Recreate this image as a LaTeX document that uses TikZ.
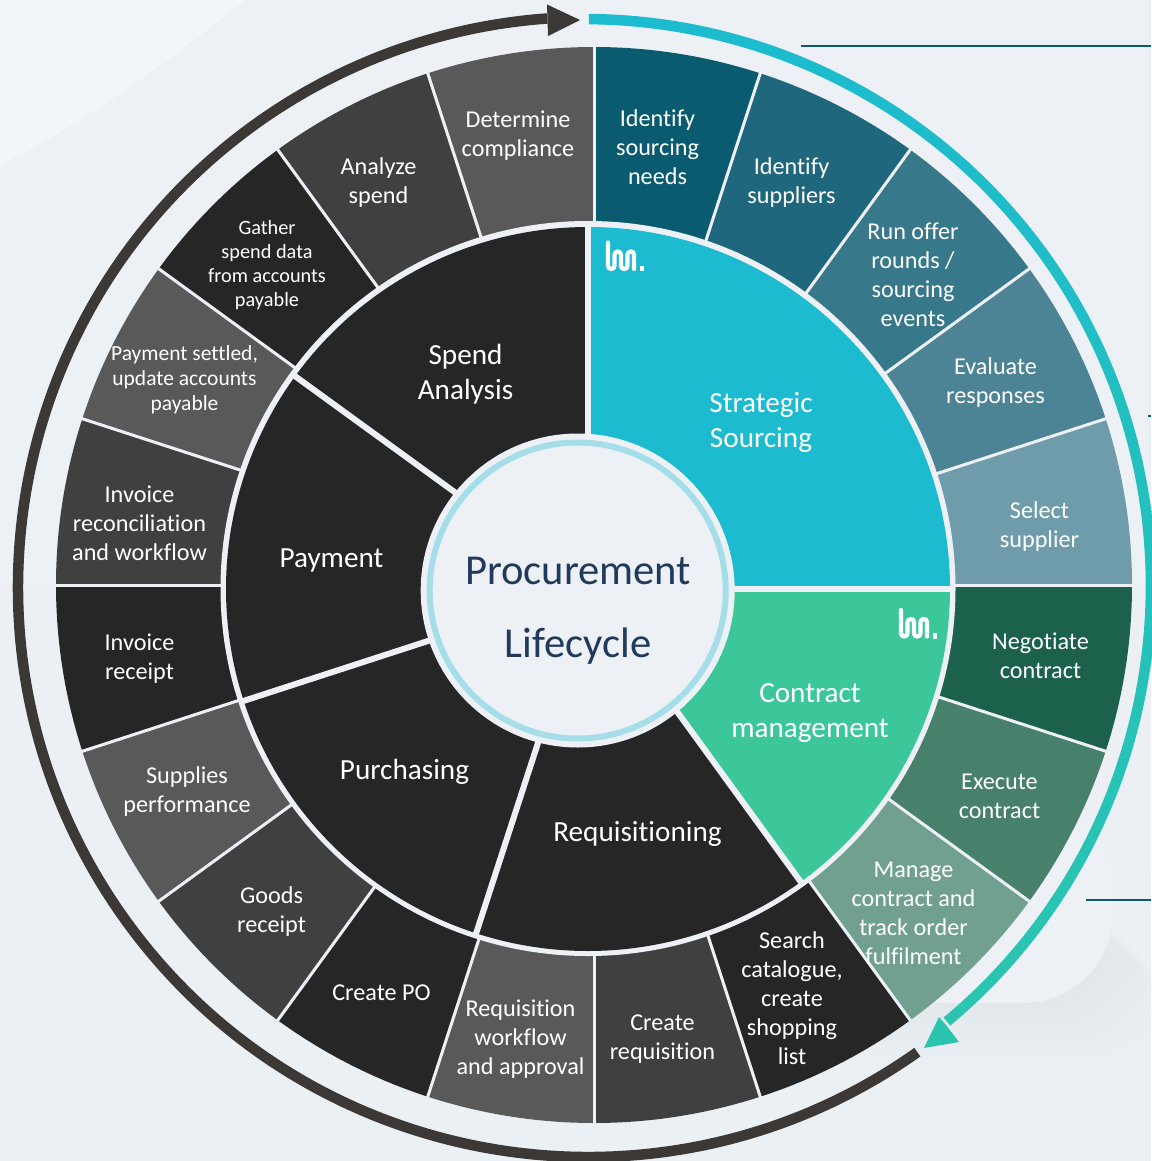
\documentclass[tikz,border=0pt]{standalone}
\usepackage{fontspec}
\setmainfont[Ligatures=NoCommon]{Carlito}
\definecolor{bgc}{HTML}{EDF1F6}
\definecolor{bgbottom}{HTML}{EBF0F4}
\definecolor{bglight}{HTML}{F2F5F9}
\definecolor{shadowc}{HTML}{C4C9D0}
\definecolor{sa}{HTML}{0A5A70}
\definecolor{sb}{HTML}{1F677C}
\definecolor{sc}{HTML}{37788A}
\definecolor{sd}{HTML}{4C8496}
\definecolor{se}{HTML}{6E9CAB}
\definecolor{ca}{HTML}{1B614C}
\definecolor{cb}{HTML}{47806B}
\definecolor{cc}{HTML}{71A091}
\definecolor{ga}{HTML}{262626}
\definecolor{gb}{HTML}{404040}
\definecolor{gc}{HTML}{595959}
\definecolor{cyanw}{HTML}{1CBBCF}
\definecolor{greenw}{HTML}{3BC79A}
\definecolor{ringc}{HTML}{A5DEE8}
\definecolor{navy}{HTML}{1F3A5A}
\definecolor{arrowdark}{HTML}{3B3836}
\definecolor{arrowgreen}{HTML}{2BC5AF}
\definecolor{calloutc}{HTML}{0B5A70}
\newcommand{\seg}[2]{\fill[#2] (Co) -- ++(#1:538) arc[start angle=#1,delta angle=18,radius=538] -- cycle;}
\newcommand{\wed}[3]{\fill[#3] (Ci) -- ++(#1:362) arc[start angle=#1,end angle=#2,radius=362] -- cycle;}
\newcommand{\logomark}[2]{\begin{scope}[shift={(#1,#2)}]
\draw[white,line width=4.2pt,rounded corners=3.2pt,line cap=round] (3.5,1.5) -- (3.5,28) -- (10,28) -- (10,10.5) -- (16.5,10.5) -- (16.5,28) -- (23,28) -- (23,10.5) -- (29.5,10.5) -- (29.5,28);
\fill[white] (35,24.5) rectangle (39,30);
\end{scope}}
\tikzset{
 outerlabel/.style={text=white,align=center,inner sep=0pt,font=\fontsize{24.2}{29}\selectfont},
 smalllabel/.style={text=white,align=center,inner sep=0pt,font=\fontsize{21.5}{25.2}\selectfont},
 gatherlabel/.style={text=white,align=center,inner sep=0pt,font=\fontsize{20.3}{24}\selectfont},
 wedgelabel/.style={text=white,align=center,inner sep=0pt,font=\fontsize{29.2}{35}\selectfont},
 centerlabel/.style={text=navy,align=center,inner sep=0pt,font=\fontsize{42.6}{73}\selectfont},
 divider/.style={draw=bgc,line width=3pt},
 wedgegap/.style={draw=bgc,line width=6pt},
 callout/.style={draw=calloutc,line width=2pt},
 darkarc/.style={draw=arrowdark,line width=10.5pt},
}
\begin{document}
\begin{tikzpicture}[x=1pt,y=1pt,yscale=-1]
\useasboundingbox (0,0) rectangle (1151,1161);
\shade[top color=bgc,bottom color=bgbottom] (0,0) rectangle (1151,1161);
% soft background shapes
\fill[bglight] (0,0) -- (245,0) .. controls (170,60) and (90,120) .. (0,165) -- cycle;
\foreach \i in {8,16,...,64}{
 \fill[shadowc,opacity=.016,rounded corners=90pt] (600,880+\i) rectangle (1113+\i,1003+\i);
}
\fill[bgc,rounded corners=90pt] (600,800) rectangle (1113,1003);
\coordinate (Co) at (594,585);
\coordinate (Ci) at (588,589);
\coordinate (Ch) at (588,588.5);
\coordinate (Cc) at (577.7,590.5);
\coordinate (Cd) at (588,587);
\coordinate (Ct) at (584,586);
% outer ring
\seg{-90}{sa}\seg{-72}{sb}\seg{-54}{sc}\seg{-36}{sd}\seg{-18}{se}
\seg{0}{ca}\seg{18}{cb}\seg{36}{cc}
\seg{54}{ga}\seg{72}{gb}\seg{90}{gc}\seg{108}{ga}\seg{126}{gb}\seg{144}{gc}
\seg{162}{ga}\seg{180}{gb}\seg{198}{gc}\seg{216}{ga}\seg{234}{gb}\seg{252}{gc}
\foreach \a in {-90,-72,...,252}{\draw[divider] (Co) -- ++(\a:538.5);}
\fill[bgc] (Ch) circle[radius=367.5];
% wedges
\wed{-90}{0}{cyanw}
\wed{0}{54}{greenw}
\wed{54}{108}{ga}
\wed{108}{162}{ga}
\wed{162}{216}{ga}
\wed{216}{270}{ga}
\foreach \a in {0,54,108,162,216,270}{\draw[wedgegap] (Ci) -- ++(\a:365);}
% centre
\fill[bgc] (Cc) circle[radius=157];
\draw[ringc,line width=6pt,fill=bgc] (Cc) circle[radius=148];
\node[centerlabel] (center) at (578,611) {Procurement\\Lifecycle};
% logos
\logomark{604.5}{241}
\logomark{897.5}{608.5}
% arrows
\draw[darkarc] (Cd) ++(54.7:570) arc[start angle=54.7,end angle=265.9,radius=570];
\fill[arrowdark] (580,20) -- (547,4.5) -- (548,36) -- cycle;
\shade[top color=cyanw,bottom color=arrowgreen] (Ct) ++(-89.5:572.2) arc[start angle=-89.5,end angle=50.2,radius=572.2] -- ++(230.2:10.5) arc[start angle=50.2,end angle=-89.5,radius=561.7] -- cycle;
\fill[arrowgreen] (924,1048) -- (939,1017) -- (946,1025) -- (959,1042) -- cycle;
% callout lines
\coordinate (la) at (801,46.5); \coordinate (lb) at (1151,46.5);
\coordinate (lc) at (1147.5,416); \coordinate (ld) at (1151,416);
\coordinate (le) at (1086,900); \coordinate (lf) at (1151,900);
\draw[callout] (la) -- (lb);
\draw[callout] (lc) -- (ld);
\draw[callout] (le) -- (lf);
% outer labels
\node[outerlabel] (n1) at (657.5,147) {Identify\\sourcing\\needs};
\node[outerlabel] (n2) at (791.5,183) {Identify\\suppliers};
\node[outerlabel] (n3) at (913,274.5) {Run offer\\rounds /\\sourcing\\events};
\node[outerlabel] (n4) at (995.5,383) {Evaluate\\responses};
\node[outerlabel] (n5) at (1039.5,527) {Select\\supplier};
\node[outerlabel] (n6) at (1040.5,656) {Negotiate\\contract};
\node[outerlabel] (n7) at (999.5,796) {Execute\\contract};
\node[outerlabel] (n8) at (913.5,913) {Manage\\contract and\\track order\\fulfilment};
\node[outerlabel] (n9) at (792,998.5) {Search\\catalogue,\\create\\shopping\\list};
\node[outerlabel] (n10) at (662.5,1039) {Create\\requisition};
\node[outerlabel] (n11) at (520.5,1039) {Requisition\\workflow\\and approval};
\node[outerlabel] (n12) at (381.5,993) {Create PO};
\node[outerlabel] (n13) at (271.5,912) {Goods\\receipt};
\node[outerlabel] (n14) at (187,792) {Supplies\\performance};
\node[outerlabel] (n15) at (139.5,659) {Invoice\\receipt};
\node[outerlabel] (n16) at (139.5,523) {Invoice\\reconciliation\\and workflow};
\node[smalllabel] (n17) at (184.5,380) {Payment settled,\\update accounts\\payable};
\node[gatherlabel] (n18) at (267,265) {Gather\\spend data\\from accounts\\payable};
\node[outerlabel] (n19) at (378.5,183) {Analyze\\spend};
\node[outerlabel] (n20) at (518,136) {Determine\\compliance};
% wedge labels
\node[wedgelabel] (w1) at (761,422) {Strategic\\Sourcing};
\node[wedgelabel] (w2) at (810,713) {Contract\\management};
\node[wedgelabel] (w3) at (637.5,834) {Requisitioning};
\node[wedgelabel] (w4) at (404.5,772) {Purchasing};
\node[wedgelabel] (w5) at (331.5,560) {Payment};
\node[wedgelabel] (w6) at (465.5,374) {Spend\\Analysis};
\end{tikzpicture}
\end{document}
